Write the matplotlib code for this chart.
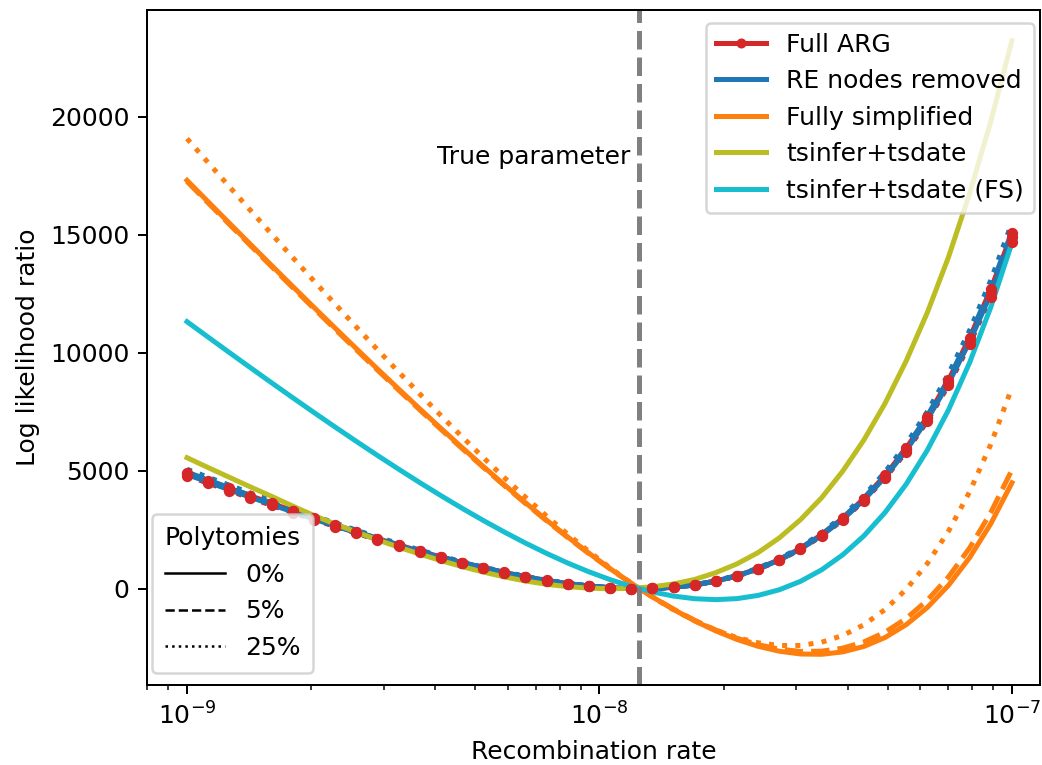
import numpy as np
import matplotlib
matplotlib.use("Agg")
import matplotlib.pyplot as plt
from matplotlib.lines import Line2D

# recombination rates evaluated (40 log-spaced values)
rates = np.logspace(-9, -7, 40)
true_rate = 1.25e-8

# log likelihood ratios
full_arg_0 = [4914, 4583, 4256, 3934, 3616, 3304, 2998, 2699, 2408, 2125, 1853, 1591, 1342, 1108, 889, 688, 507, 348, 215, 111,
              39, 3, 8, 59, 161, 322, 548, 848, 1230, 1706, 2287, 2985, 3817, 4798, 5947, 7286, 8837, 10629, 12690, 15055]
full_arg_5 = [4865, 4537, 4213, 3895, 3580, 3271, 2968, 2672, 2384, 2104, 1834, 1575, 1329, 1097, 880, 681, 502, 345, 213, 110,
              39, 3, 8, 58, 159, 319, 543, 840, 1218, 1689, 2264, 2955, 3779, 4750, 5888, 7213, 8749, 10523, 12563, 14904]
full_arg_25 = [4791, 4468, 4150, 3836, 3526, 3221, 2923, 2632, 2348, 2072, 1807, 1551, 1308, 1080, 867, 671, 494, 339, 210, 108,
               38, 3, 8, 58, 157, 314, 534, 827, 1199, 1663, 2230, 2910, 3722, 4678, 5798, 7104, 8616, 10363, 12373, 14679]

re_removed_0 = [4840, 4514, 4192, 3875, 3562, 3254, 2953, 2659, 2372, 2093, 1825, 1567, 1322, 1091, 876, 678, 499, 343, 212, 109,
                38, 3, 8, 58, 159, 317, 540, 835, 1212, 1680, 2253, 2940, 3760, 4726, 5858, 7177, 8704, 10470, 12500, 14829]
re_removed_5 = [4939, 4606, 4277, 3954, 3634, 3321, 3013, 2712, 2420, 2136, 1862, 1599, 1349, 1114, 893, 691, 510, 350, 216, 112,
                39, 3, 8, 59, 162, 324, 551, 852, 1236, 1715, 2298, 3000, 3836, 4822, 5977, 7322, 8881, 10682, 12753, 15130]
re_removed_25 = [5061, 4720, 4384, 4052, 3724, 3403, 3088, 2780, 2480, 2189, 1909, 1639, 1382, 1141, 916, 709, 522, 358, 221, 114,
                 40, 3, 8, 61, 166, 332, 564, 873, 1267, 1757, 2356, 3075, 3932, 4942, 6125, 7505, 9102, 10948, 13071, 15507]

simplified_0 = [17301, 16393, 15489, 14589, 13694, 12805, 11921, 11044, 10175, 9314, 8464, 7624, 6796, 5982, 5184, 4403, 3642, 2903,
                2189, 1504, 849, 231, -348, -882, -1365, -1791, -2153, -2443, -2651, -2768, -2782, -2680, -2449, -2070, -1526,
                -797, 141, 1315, 2753, 4488]
simplified_5 = [17252, 16344, 15439, 14539, 13644, 12755, 11871, 10995, 10126, 9267, 8417, 7579, 6753, 5941, 5146, 4368, 3610, 2876,
                2166, 1486, 839, 227, -343, -867, -1339, -1752, -2100, -2373, -2563, -2659, -2649, -2521, -2258, -1846, -1263,
                -490, 498, 1727, 3228, 5034]
simplified_25 = [19071, 18052, 17037, 16028, 15025, 14029, 13040, 12061, 11091, 10132, 9187, 8255, 7339, 6441, 5563, 4708, 3878,
                 3077, 2308, 1576, 884, 238, -356, -892, -1362, -1759, -2073, -2293, -2409, -2406, -2270, -1984, -1530, -886,
                 -29, 1068, 2435, 4106, 6119, 8516]

tsinfer = [5550, 5130, 4720, 4310, 3910, 3500, 3100, 2740, 2400, 2070, 1760, 1465, 1190, 935, 705, 500, 325, 185, 85, 20,
           -5, 15, 80, 200, 390, 680, 1050, 1530, 2150, 2920, 3850, 4980, 6300, 7850, 9650, 11700, 14050, 16750, 19800, 23220]
tsinfer_fs = [11313, 10658, 10007, 9362, 8723, 8090, 7466, 6850, 6244, 5649, 5066, 4497, 3944, 3409, 2894, 2401, 1933, 1494, 1086,
              715, 383, 98, -137, -314, -426, -465, -422, -286, -47, 309, 797, 1434, 2237, 3227, 4428, 5868, 7574, 9582,
              11928, 14655]

red, blue, orange = 'tab:red', 'tab:blue', 'tab:orange'
lw = 2

fig = plt.figure(figsize=(1042 / 180, 765 / 180), dpi=180)
ax = fig.add_axes([147 / 1042, 1 - 685 / 765, (1040 - 147) / 1042, (685 - 10) / 765])

# Full ARG lines under the other methods, its markers on top
full_arg = [(full_arg_0, '-'), (full_arg_5, '--'), (full_arg_25, ':')]
for vals, s in full_arg:
    ax.plot(rates, vals, color=red, lw=lw, ls=s, zorder=1.9)
ax.plot(rates, re_removed_0, color=blue, lw=lw, ls='-')
ax.plot(rates, re_removed_5, color=blue, lw=lw, ls='--')
ax.plot(rates, re_removed_25, color=blue, lw=lw, ls=':')
for vals, s in full_arg:
    ax.plot(rates, vals, color=red, ls='none', marker='o', ms=3.5, zorder=2.5)
ax.plot(rates, simplified_0, color=orange, lw=lw, ls='-')
ax.plot(rates, simplified_5, color=orange, lw=lw, ls='--')
ax.plot(rates, simplified_25, color=orange, lw=lw, ls=':')
ax.plot(rates, tsinfer, color='tab:olive', lw=lw)
ax.plot(rates, tsinfer_fs, color='tab:cyan', lw=lw)

ax.axvline(true_rate, color='grey', ls='--', lw=2)
ax.text(1.19e-8, 18300, 'True parameter', ha='right', va='center', fontsize=10)

ax.set_xscale('log')
ax.set_xlim(10 ** -9.097, 10 ** -6.932)
ax.set_xlabel('Recombination rate')
ax.set_ylabel('Log likelihood ratio')

method_handles = [
    Line2D([], [], color=red, lw=lw, marker='o', ms=3),
    Line2D([], [], color=blue, lw=lw),
    Line2D([], [], color=orange, lw=lw),
    Line2D([], [], color='tab:olive', lw=lw),
    Line2D([], [], color='tab:cyan', lw=lw),
]
method_labels = ['Full ARG', 'RE nodes removed', 'Fully simplified', 'tsinfer+tsdate', 'tsinfer+tsdate (FS)']
leg1 = ax.legend(method_handles, method_labels, loc='upper right', bbox_to_anchor=(1.007, 1))
ax.add_artist(leg1)

poly_handles = [Line2D([], [], color='k', lw=1, ls=s) for s in ['-', '--', ':']]
ax.legend(poly_handles, ['0%', '5%', '25%'], title='Polytomies', loc='lower left',
          bbox_to_anchor=(-0.008, 0), handlelength=2.4, borderpad=0.5)

fig.savefig('out.png', dpi=180)
